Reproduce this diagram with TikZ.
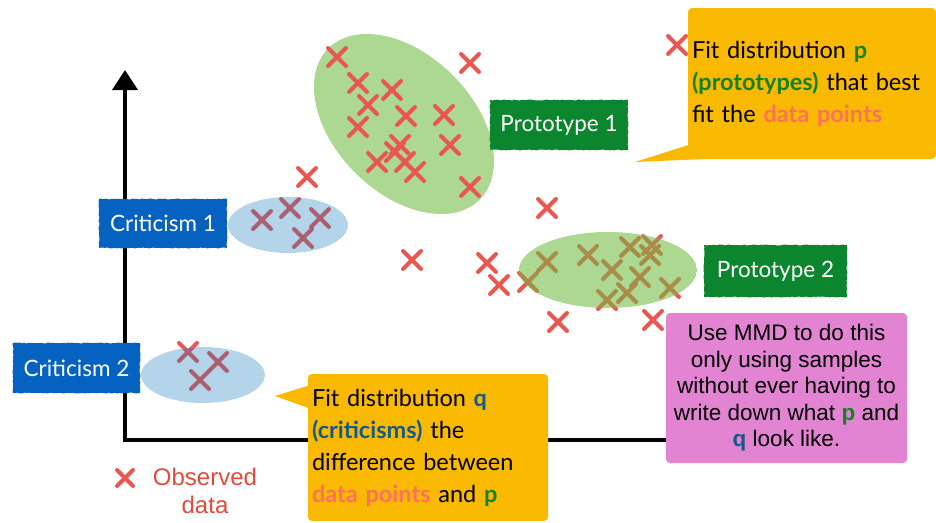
\documentclass[tikz,border=0pt]{standalone}
\usepackage{fontspec}
\setmainfont{Lato}
\newfontfamily\helv{Liberation Sans}
\usetikzlibrary{arrows.meta,decorations.pathmorphing}

\definecolor{obsred}{RGB}{233,88,80}
\definecolor{obsolive}{RGB}{168,140,72}
\definecolor{obsmauve}{RGB}{170,96,112}
\definecolor{protofill}{RGB}{173,216,145}
\definecolor{critfill}{RGB}{180,213,233}
\definecolor{protobox}{RGB}{12,134,46}
\definecolor{critbox}{RGB}{6,98,192}
\definecolor{callyellow}{RGB}{248,185,0}
\definecolor{mmdpink}{RGB}{226,132,210}
\definecolor{pgreen}{RGB}{20,130,30}
\definecolor{qblue}{RGB}{20,90,140}
\definecolor{dpoint}{RGB}{255,112,95}
\definecolor{legendred}{RGB}{225,75,60}

\tikzset{
  obsmark/.style={draw=obsred, line width=4pt, line cap=round},
  axisline/.style={line width=4pt, black},
  tagbox/.style={text=white, font=\fontsize{22.5}{26}\selectfont, inner sep=0pt,
    decorate, decoration={random steps, segment length=2pt, amplitude=0.5pt}},
  callbox/.style={fill=callyellow, rounded corners=4pt, inner xsep=4pt, align=left,
    font=\fontsize{23.5}{32}\selectfont},
}

\begin{document}
\begin{tikzpicture}[x=1pt, y=-1pt]
  \useasboundingbox (0,0) rectangle (936,522);

  % axes
  \coordinate (origin) at (125,440);
  \coordinate (ytip) at (125,70);
  \coordinate (xend) at (668,440);
  \draw[axisline] (xend) -- (origin) -- (125,90);
  \draw[axisline, -{Triangle[length=20pt, width=25pt]}] (125,95) -- (ytip);

  % prototype 1 region
  \fill[protofill, rotate around={-45:(404,124)}] (404,124) ellipse [x radius=107pt, y radius=69pt];

  % observed points
  \foreach \p in {(337,57),(470,63),(358,83),(392,90),(368,105),(406,116),(444,115),
      (358,127),(450,145),(400,145),(395,152),(377,162),(405,162),(415,172),(470,187),
      (307,177),(677,45),(547,208),(412,260),(487,263),(499,285),(558,322),(653,320),
      (528,282),(547,262),(588,255),(630,247),(652,245),(650,255),(612,270),(640,277),
      (627,293),(607,300),(670,288),
      (262,220),(290,208),(320,218),(303,238),(188,352),(218,362),(200,380)}
    \draw[obsmark, shift={\p}] (-9,-9) -- (9,9) (-9,9) -- (9,-9);

  % prototype 2 region, points seen through it
  \begin{scope}
    \clip (608,270) ellipse [x radius=89pt, y radius=38pt];
    \fill[protofill] (608,270) ellipse [x radius=89pt, y radius=38pt];
    \foreach \p in {(528,282),(547,262),(588,255),(630,247),(652,245),(650,255),
        (612,270),(640,277),(627,293),(607,300),(670,288)}
      \draw[obsmark, draw=obsolive, shift={\p}] (-9,-9) -- (9,9) (-9,9) -- (9,-9);
  \end{scope}

  % criticism regions
  \begin{scope}
    \clip (288,225) ellipse [x radius=60pt, y radius=28pt];
    \fill[critfill] (288,225) ellipse [x radius=60pt, y radius=28pt];
    \foreach \p in {(262,220),(290,208),(320,218),(303,238)}
      \draw[obsmark, draw=obsmauve, shift={\p}] (-9,-9) -- (9,9) (-9,9) -- (9,-9);
  \end{scope}
  \begin{scope}
    \clip (203,375) ellipse [x radius=62pt, y radius=28pt];
    \fill[critfill] (203,375) ellipse [x radius=62pt, y radius=28pt];
    \foreach \p in {(188,352),(218,362),(200,380)}
      \draw[obsmark, draw=obsmauve, shift={\p}] (-9,-9) -- (9,9) (-9,9) -- (9,-9);
  \end{scope}

  % labels
  \node (proto1) [tagbox, fill=protobox, minimum width=138pt, minimum height=50pt] at (559,125) {Prototype 1};
  \node (proto2) [tagbox, fill=protobox, minimum width=143pt, minimum height=52pt] at (775.5,271) {Prototype 2};
  \node (crit1) [tagbox, fill=critbox, minimum width=128pt, minimum height=49pt] at (163,223.5) {Criticism 1};
  \node (crit2) [tagbox, fill=critbox, minimum width=127pt, minimum height=50pt] at (76.5,368) {Criticism 2};

  % callouts
  \node (fitp) [callbox, text width=240pt, minimum height=151pt] at (812,83.5)
    {Fit distribution \textbf{\textcolor{pgreen}{p}}\\
     \textbf{\textcolor{pgreen}{(prototypes)}} that best\\
     fit the \textbf{\textcolor{dpoint}{data points}}};
  \coordinate (tailp) at (635,162);
  \fill[callyellow] ([yshift=14pt]fitp.south west) -- (tailp) -- ([xshift=12pt]fitp.south west) -- cycle;

  \node (fitq) [callbox, text width=232pt, minimum height=147pt] at (428,447.5)
    {Fit distribution \textbf{\textcolor{qblue}{q}}\\
     \textbf{\textcolor{qblue}{(criticisms)}} the\\
     difference between\\
     \textbf{\textcolor{dpoint}{data points}} and \textbf{\textcolor{pgreen}{p}}};
  \coordinate (tailq) at (275,396);
  \fill[callyellow] ([yshift=-12pt]fitq.north west) -- (tailq) -- ([yshift=-34pt]fitq.north west) -- cycle;

  \node (mmd) [fill=mmdpink, rounded corners=4pt, minimum width=241pt, minimum height=150pt,
    align=center, font=\helv\fontsize{22.5}{26.5}\selectfont] at (786.5,388)
    {Use MMD to do this\\
     only using samples\\
     without ever having to\\
     write down what \textcolor{pgreen}{\textbf{p}} and\\
     \textcolor{qblue}{\textbf{q}} look like.};

  % legend
  \draw[obsmark, shift={(125,478)}] (-8,-8) -- (8,8) (-8,8) -- (8,-8);
  \node (legend) [text=legendred, align=center, font=\helv\fontsize{24}{28}\selectfont] at (205,491) {Observed\\data};
\end{tikzpicture}
\end{document}
